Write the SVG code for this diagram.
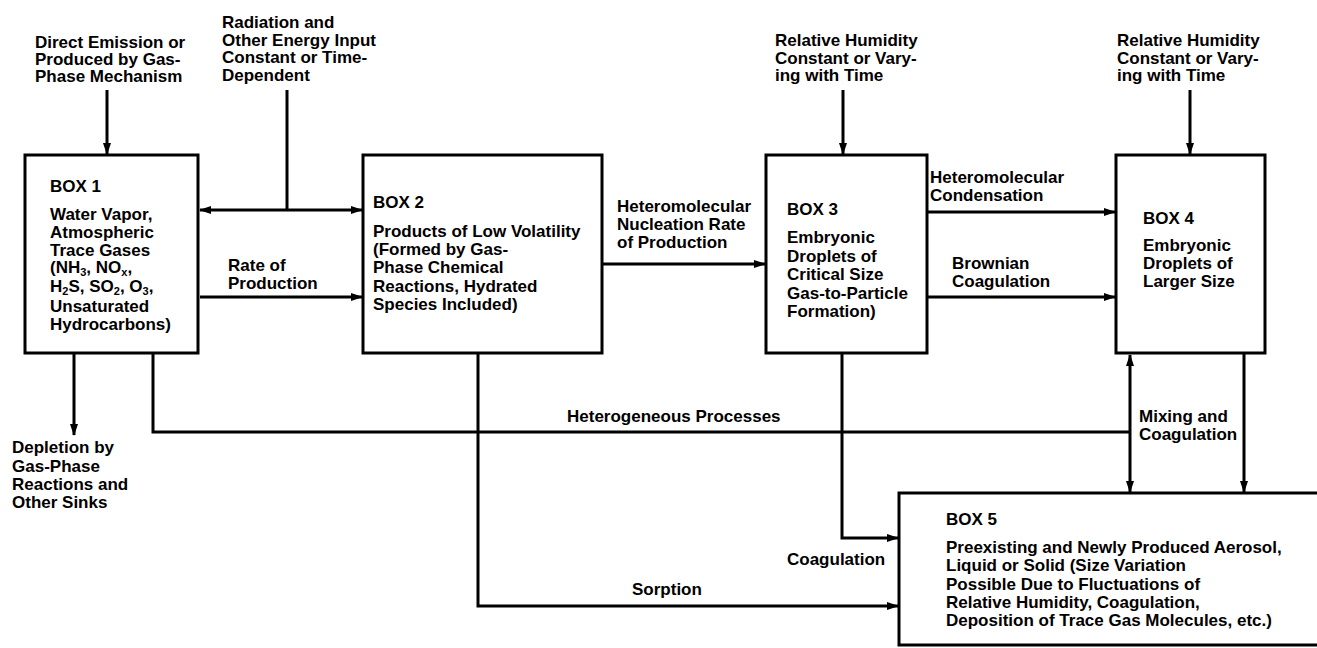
<svg xmlns="http://www.w3.org/2000/svg" width="1317" height="648" viewBox="0 0 1317 648">
<style>
.box{fill:#fff;stroke:#000;stroke-width:3}
.ln{fill:none;stroke:#000;stroke-width:3}
text{font-family:"Liberation Sans",Arial,sans-serif;font-weight:700;font-size:17px;fill:#000}
.sub{font-size:11px}
</style>
<defs>
<marker id="ah" markerUnits="userSpaceOnUse" markerWidth="12" markerHeight="8" refX="11" refY="4" orient="auto-start-reverse">
<path d="M0,0 L12,4 L0,8 z" fill="#000"/>
</marker>
</defs>
<rect width="1317" height="648" fill="#fff"/>

<g id="connectors">
<line class="ln" x1="107" y1="90" x2="107" y2="154" marker-end="url(#ah)"/>
<line class="ln" x1="287" y1="90" x2="287" y2="210"/>
<line class="ln" x1="200" y1="210" x2="362" y2="210" marker-start="url(#ah)" marker-end="url(#ah)"/>
<line class="ln" x1="200" y1="297" x2="362" y2="297" marker-end="url(#ah)"/>
<line class="ln" x1="603" y1="264" x2="765" y2="264" marker-end="url(#ah)"/>
<line class="ln" x1="928" y1="212" x2="1115" y2="212" marker-end="url(#ah)"/>
<line class="ln" x1="928" y1="297" x2="1115" y2="297" marker-end="url(#ah)"/>
<line class="ln" x1="843" y1="90" x2="843" y2="154" marker-end="url(#ah)"/>
<line class="ln" x1="1190" y1="90" x2="1190" y2="154" marker-end="url(#ah)"/>
<line class="ln" x1="74" y1="354" x2="74" y2="435" marker-end="url(#ah)"/>
<path class="ln" d="M153,354 V432 H1130"/>
<line class="ln" x1="1130" y1="355" x2="1130" y2="492" marker-start="url(#ah)" marker-end="url(#ah)"/>
<line class="ln" x1="1244" y1="354" x2="1244" y2="492" marker-end="url(#ah)"/>
<path class="ln" d="M478,354 V606 H898" marker-end="url(#ah)"/>
<path class="ln" d="M842,354 V538 H898" marker-end="url(#ah)"/>
</g>

<g id="box1">
<rect class="box" x="25" y="155" width="173" height="198"/>
<text x="50" y="192">BOX 1</text>
<text x="50" y="220">Water Vapor,</text>
<text x="50" y="238">Atmospheric</text>
<text x="50" y="256">Trace Gases</text>
<text x="50" y="273">(NH<tspan class="sub" dy="3">3</tspan><tspan dy="-3">, NO</tspan><tspan class="sub" dy="3">x</tspan><tspan dy="-3">,</tspan></text>
<text x="50" y="292">H<tspan class="sub" dy="3">2</tspan><tspan dy="-3">S, SO</tspan><tspan class="sub" dy="3">2</tspan><tspan dy="-3">, O</tspan><tspan class="sub" dy="3">3</tspan><tspan dy="-3">,</tspan></text>
<text x="50" y="312">Unsaturated</text>
<text x="50" y="330">Hydrocarbons)</text>
</g>

<g id="box2">
<rect class="box" x="363" y="155" width="239" height="198"/>
<text x="373" y="208">BOX 2</text>
<text x="373" y="237">Products of Low Volatility</text>
<text x="373" y="255">(Formed by Gas-</text>
<text x="373" y="273">Phase Chemical</text>
<text x="373" y="292">Reactions, Hydrated</text>
<text x="373" y="310">Species Included)</text>
</g>

<g id="box3">
<rect class="box" x="766" y="155" width="161" height="198"/>
<text x="787" y="215">BOX 3</text>
<text x="787" y="243">Embryonic</text>
<text x="787" y="262">Droplets of</text>
<text x="787" y="280">Critical Size</text>
<text x="787" y="299">Gas-to-Particle</text>
<text x="787" y="317">Formation)</text>
</g>

<g id="box4">
<rect class="box" x="1116" y="155" width="149" height="198"/>
<text x="1143" y="224">BOX 4</text>
<text x="1143" y="251">Embryonic</text>
<text x="1143" y="269">Droplets of</text>
<text x="1143" y="287">Larger Size</text>
</g>

<g id="box5">
<rect class="box" x="899" y="493" width="430" height="152"/>
<text x="946" y="525">BOX 5</text>
<text x="946" y="553">Preexisting and Newly Produced Aerosol,</text>
<text x="946" y="571">Liquid or Solid (Size Variation</text>
<text x="946" y="590">Possible Due to Fluctuations of</text>
<text x="946" y="608">Relative Humidity, Coagulation,</text>
<text x="946" y="626">Deposition of Trace Gas Molecules, etc.)</text>
</g>

<g id="labels">
<text x="35" y="48">Direct Emission or</text>
<text x="35" y="65">Produced by Gas-</text>
<text x="35" y="82">Phase Mechanism</text>

<text x="222" y="28">Radiation and</text>
<text x="222" y="46">Other Energy Input</text>
<text x="222" y="63">Constant or Time-</text>
<text x="222" y="81">Dependent</text>

<text x="775" y="46">Relative Humidity</text>
<text x="775" y="64">Constant or Vary-</text>
<text x="775" y="81">ing with Time</text>

<text x="1117" y="46">Relative Humidity</text>
<text x="1117" y="64">Constant or Vary-</text>
<text x="1117" y="81">ing with Time</text>

<text x="228" y="271">Rate of</text>
<text x="228" y="289">Production</text>

<text x="617" y="212">Heteromolecular</text>
<text x="617" y="230">Nucleation Rate</text>
<text x="617" y="248">of Production</text>

<text x="930" y="183">Heteromolecular</text>
<text x="930" y="201">Condensation</text>

<text x="952" y="269">Brownian</text>
<text x="952" y="287">Coagulation</text>

<text x="12" y="453">Depletion by</text>
<text x="12" y="472">Gas-Phase</text>
<text x="12" y="490">Reactions and</text>
<text x="12" y="508">Other Sinks</text>

<text x="567" y="422">Heterogeneous Processes</text>
<text x="1139" y="422">Mixing and</text>
<text x="1139" y="440">Coagulation</text>
<text x="787" y="565">Coagulation</text>
<text x="632" y="595">Sorption</text>
</g>
</svg>
